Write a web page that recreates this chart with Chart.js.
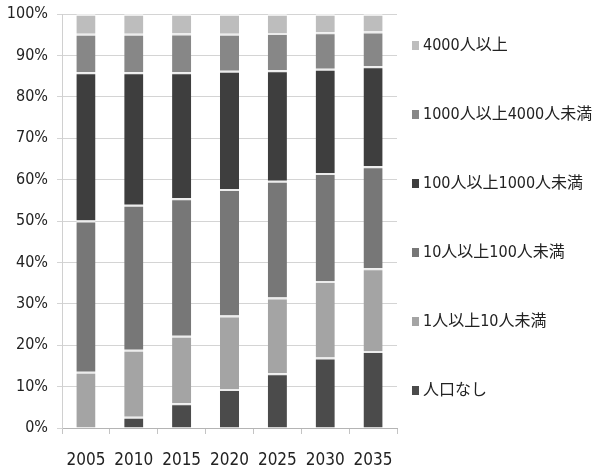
<!DOCTYPE html>
<html>
<head>
<meta charset="utf-8">
<script src="https://cdn.jsdelivr.net/npm/chart.js@4/dist/chart.umd.min.js"></script>
<style>
  html, body { margin: 0; padding: 0; background: #ffffff; }
  #wrap { width: 593px; height: 472px; position: relative; }
</style>
</head>
<body>
<div id="wrap"><canvas id="c"></canvas></div>
<script>
// Share of areas by resident population, 2005–2035
const years = ['2005', '2010', '2015', '2020', '2025', '2030', '2035'];

const seriesLabels = ['人口なし', '1人以上10人未満', '10人以上100人未満', '100人以上1000人未満', '1000人以上4000人未満', '4000人以上'];

const noPop       = [0, 2.7, 6.0, 9.4, 13.2, 17.0, 18.6];
const pop1to10    = [13.6, 16.2, 16.3, 17.8, 18.3, 18.5, 20.0];
const pop10to100  = [36.5, 35.0, 33.2, 30.5, 28.2, 26.1, 24.6];
const pop100to1k  = [35.8, 32.0, 30.4, 28.6, 26.7, 25.2, 24.2];
const pop1kto4k   = [9.3, 9.3, 9.4, 8.9, 9.0, 8.8, 8.4];
const pop4kPlus   = [4.8, 4.8, 4.7, 4.8, 4.6, 4.4, 4.2];

const yTicks = [0, 10, 20, 30, 40, 50, 60, 70, 80, 90, 100];

const seriesValues = [noPop, pop1to10, pop10to100, pop100to1k, pop1kto4k, pop4kPlus];
const seriesColors = ['#4b4b4b', '#a4a4a4', '#777777', '#3e3e3e', '#878787', '#bdbdbd'];

const FONT = '"DejaVu Sans Condensed", "Liberation Sans Narrow", "Noto Sans CJK JP", sans-serif';
const LEGEND_FONT = '"DejaVu Sans Condensed", "Noto Sans CJK JP", sans-serif';

// Legend on the right, top entry = last stacked series
const sideLegend = {
  id: 'sideLegend',
  afterDraw(chart) {
    const ctx = chart.ctx;
    const n = chart.data.datasets.length;
    ctx.save();
    ctx.textBaseline = 'middle';
    ctx.textAlign = 'left';
    ctx.font = '16px ' + LEGEND_FONT;
    for (let k = 0; k < n; k++) {
      const ds = chart.data.datasets[n - 1 - k];
      const y = 45 + k * 69;
      ctx.fillStyle = ds.backgroundColor;
      ctx.fillRect(412, y - 4, 7, 9);
      ctx.fillStyle = '#222222';
      ctx.fillText(ds.label, 423, y + 1);
    }
    ctx.restore();
  }
};

new Chart(document.getElementById('c'), {
  type: 'bar',
  data: {
    labels: years,
    datasets: seriesLabels.map((label, i) => ({
      label: label,
      data: seriesValues[i],
      backgroundColor: seriesColors[i],
      borderColor: '#ececec',
      borderWidth: { top: 2, bottom: 0, left: 0, right: 0 },
      borderSkipped: false,
      categoryPercentage: 0.4,
      barPercentage: 1.0
    }))
  },
  options: {
    responsive: true,
    maintainAspectRatio: false,
    animation: false,
    layout: { padding: { top: 14, right: 196, left: 0, bottom: 0 } },
    plugins: {
      legend: { display: false },
      tooltip: { enabled: false }
    },
    scales: {
      x: {
        stacked: true,
        grid: {
          offset: true,
          drawOnChartArea: false,
          drawTicks: true,
          tickLength: 6,
          color: '#c4c4c4'
        },
        border: { display: true, color: '#b4b4b4', width: 1 },
        ticks: {
          color: '#222222',
          font: { family: FONT, size: 17 },
          padding: 16,
          maxRotation: 0
        },
        afterFit(scale) { scale.height = 44; }
      },
      y: {
        stacked: true,
        min: 0,
        max: 100,
        afterBuildTicks(scale) { scale.ticks = yTicks.map(v => ({ value: v })); },
        grid: {
          color: '#d4d4d4',
          tickLength: 5,
          drawTicks: true
        },
        border: { display: true, color: '#d0d0d0', width: 1 },
        ticks: {
          color: '#222222',
          font: { family: FONT, size: 16 },
          padding: 9,
          callback: v => v + '%'
        },
        afterFit(scale) {
          scale.width = 62;
          scale.paddingTop = 0;
          scale.paddingBottom = 0;
        }
      }
    }
  },
  plugins: [sideLegend]
});
</script>
</body>
</html>
